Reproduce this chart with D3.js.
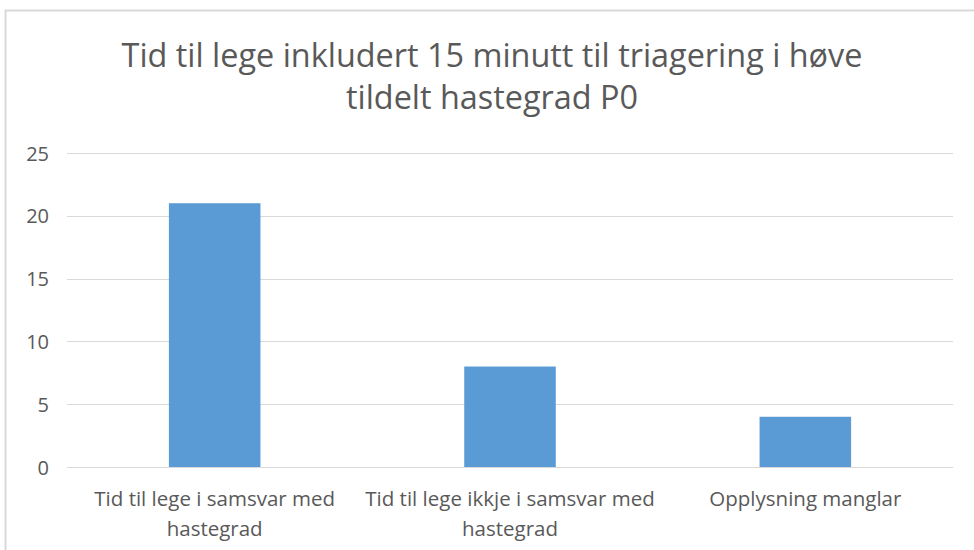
<!DOCTYPE html>
<html>
<head>
<meta charset="utf-8">
<script src="https://cdn.jsdelivr.net/npm/d3@7"></script>
<style>
  html, body { margin: 0; padding: 0; background: #ffffff; }
  svg { display: block; }
  text { font-family: "Open Sans", "Noto Sans", sans-serif; fill: #595959; }
</style>
</head>
<body>
<script>
const titleLines = ["Tid til lege inkludert 15 minutt til triagering i høve", "tildelt hastegrad P0"];
const categories = ["Tid til lege i samsvar med hastegrad", "Tid til lege ikkje i samsvar med hastegrad", "Opplysning manglar"];
const values = [21, 8, 4];
const yTicks = [0, 5, 10, 15, 20, 25];

const W = 974, H = 550;
const svg = d3.select("body").append("svg").attr("width", W).attr("height", H);

// chart frame (extends past the picture on the right and bottom)
svg.append("rect").attr("x", 5.5).attr("y", 10.5).attr("width", 1000).attr("height", 600)
  .attr("fill", "#fff").attr("stroke", "#d9d9d9").attr("stroke-width", 2);

const plot = { left: 67, right: 953, top: 153, bottom: 467 };

const x = d3.scaleBand().domain(categories).range([plot.left, plot.right])
  .paddingInner(0.69).paddingOuter(0.345);
const y = d3.scaleLinear().domain([0, 25]).range([plot.bottom, plot.top]);

// gridlines
svg.append("g").selectAll("line").data(yTicks).join("line")
  .attr("x1", plot.left).attr("x2", plot.right)
  .attr("y1", d => Math.round(y(d)) + 0.5).attr("y2", d => Math.round(y(d)) + 0.5)
  .attr("stroke", "#d9d9d9").attr("stroke-width", 1.2);

// y axis labels
const yAxis = d3.axisLeft(y).tickValues(yTicks).tickSize(0).tickPadding(0);
const gy = svg.append("g").attr("transform", `translate(49,0)`).call(yAxis);
gy.select(".domain").remove();
gy.selectAll("text").attr("font-size", 20).style("font-family", '"Open Sans", sans-serif').attr("fill", "#595959").attr("dy", "0.35em");

// bars
svg.append("g").selectAll("rect").data(values).join("rect")
  .attr("x", (d, i) => x(categories[i]))
  .attr("width", x.bandwidth())
  .attr("y", d => y(d))
  .attr("height", d => y(0) - y(d))
  .attr("fill", "#5b9bd5");

// x axis labels with wrapping
const xAxis = d3.axisBottom(x).tickSize(0).tickPadding(0);
const gx = svg.append("g").attr("transform", `translate(0,${plot.bottom})`).call(xAxis);
gx.select(".domain").remove();
gx.selectAll("text").attr("font-size", 20.5).style("font-family", '"Open Sans", sans-serif')
  .attr("fill", "#595959").attr("y", 0).attr("dy", null)
  .each(function(d) {
    const t = d3.select(this);
    const words = d.split(" ");
    t.text(null);
    let lines = [], cur = [];
    const probe = t.append("tspan");
    words.forEach(w => {
      cur.push(w);
      probe.text(cur.join(" "));
      if (probe.node().getComputedTextLength() > 305 && cur.length > 1) {
        cur.pop(); lines.push(cur.join(" ")); cur = [w];
      }
    });
    lines.push(cur.join(" "));
    probe.remove();
    lines.forEach((ln, i) => {
      t.append("tspan").attr("x", 0).attr("y", 39 + i * 30).text(ln);
    });
  });

// title
svg.append("text").attr("text-anchor", "middle").attr("font-size", 32.4)
  .selectAll("tspan").data(titleLines).join("tspan")
  .attr("x", 492).attr("y", (d, i) => 67 + i * 42).text(d => d);
</script>
</body>
</html>
